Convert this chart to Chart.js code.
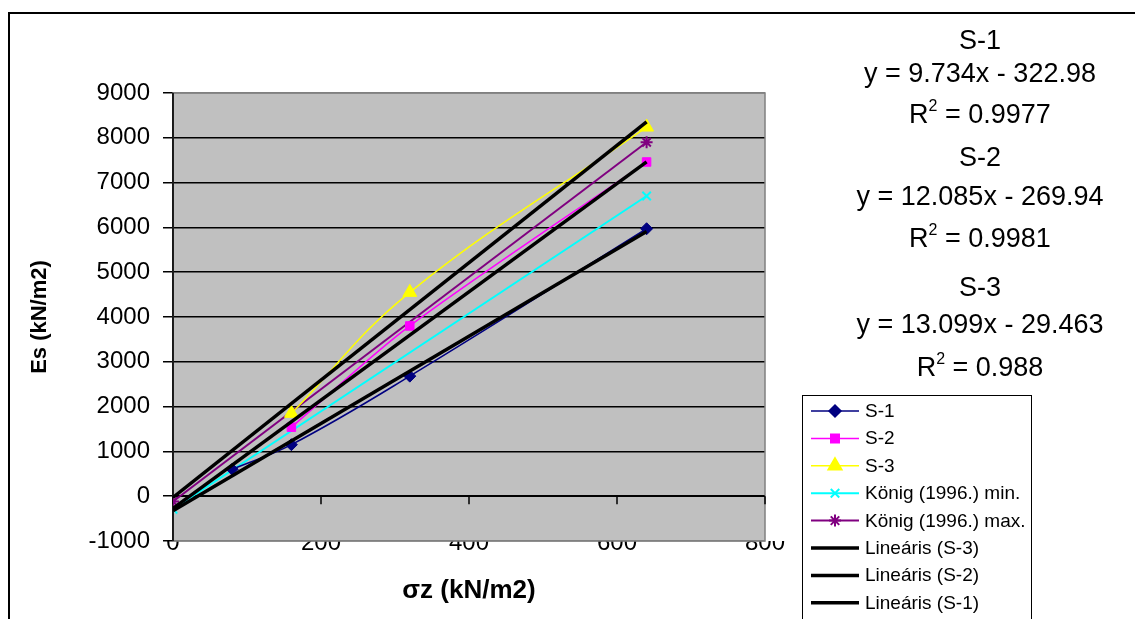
<!DOCTYPE html>
<html>
<head>
<meta charset="utf-8">
<script src="https://cdn.jsdelivr.net/npm/chart.js@4.4.0/dist/chart.umd.min.js"></script>
<style>
  body { margin: 0; background: #fff; font-family: Arial, 'Liberation Sans', sans-serif; }
  #wrap { position: relative; width: 1135px; height: 619px; overflow: hidden; }
  #chart { position: absolute; left: 0; top: 0; }
  #frame { position: absolute; left: 8px; top: 12px; width: 1140px; height: 640px; border: 2px solid #000; box-sizing: border-box; }
  .eq { position: absolute; left: 830px; width: 300px; text-align: center; font-size: 27px; line-height: 28px; color: #000; }
  .eq sup { font-size: 16px; line-height: 0; vertical-align: 12px; }
  #legend { position: absolute; left: 802px; top: 395px; width: 230px; height: 240px; border: 1.5px solid #000; box-sizing: border-box; }
  .lg { position: absolute; left: 865px; font-size: 19px; line-height: 20px; color: #000; white-space: nowrap; }
</style>
</head>
<body>
<div id="wrap">
  <canvas id="chart" width="1135" height="619"></canvas>
  <div id="frame"></div>
  <div id="legend"></div>
  <div id="texts"></div>
</div>
<script>
// measured series
const xS1 = [80, 160, 320, 640];
const yS1 = [600, 1150, 2680, 5970];
const xS2 = [160, 320, 640];
const yS2 = [1540, 3800, 7460];
const xS3 = [160, 320, 640];
const yS3 = [1850, 4550, 8240];
const xKonig = [0, 640];
const yKonigMin = [-290, 6700];
const yKonigMax = [-120, 7900];
// trendline end points (x = 0 and x = 640)
const xTrend = [0, 640];
const yLinS3 = [-29, 8354];
const yLinS2 = [-270, 7464];
const yLinS1 = [-323, 5907];

const xTicks = [0, 200, 400, 600, 800];
const yTicks = [-1000, 0, 1000, 2000, 3000, 4000, 5000, 6000, 7000, 8000, 9000];

const eqLines = [
  ['S-1', 40], ['y = 9.734x - 322.98', 73], ['R<sup>2</sup> = 0.9977', 114],
  ['S-2', 157], ['y = 12.085x - 269.94', 196], ['R<sup>2</sup> = 0.9981', 238],
  ['S-3', 287], ['y = 13.099x - 29.463', 324], ['R<sup>2</sup> = 0.988', 367],
];

const pts = (xs, ys) => xs.map((x, i) => ({ x, y: ys[i] }));

const datasets = [
  { label: 'S-1', data: pts(xS1, yS1), borderColor: '#000080', backgroundColor: '#000080', borderWidth: 1.5,
    pointStyle: 'rectRot', pointRadius: 6, tension: 0.4, order: 2 },
  { label: 'S-2', data: pts(xS2, yS2), borderColor: '#FF00FF', backgroundColor: '#FF00FF', borderWidth: 1.5,
    pointStyle: 'rect', pointRadius: 6, tension: 0.3, order: 2 },
  { label: 'S-3', data: pts(xS3, yS3), borderColor: '#FFFF00', backgroundColor: '#FFFF00', borderWidth: 1.5,
    pointStyle: 'triangle', pointRadius: 8, tension: 0.4, order: 2 },
  { label: 'König (1996.) min.', data: pts(xKonig, yKonigMin), borderColor: '#00FFFF', backgroundColor: '#00FFFF', borderWidth: 2,
    pointStyle: 'crossRot', pointRadius: 6, pointBorderWidth: 2, order: 2 },
  { label: 'König (1996.) max.', data: pts(xKonig, yKonigMax), borderColor: '#800080', backgroundColor: '#800080', borderWidth: 2,
    pointStyle: 'star', pointRadius: 6, pointBorderWidth: 2, order: 2 },
  { label: 'Lineáris (S-3)', data: pts(xTrend, yLinS3), borderColor: '#000', borderWidth: 3.5, pointRadius: 0, order: 1 },
  { label: 'Lineáris (S-2)', data: pts(xTrend, yLinS2), borderColor: '#000', borderWidth: 3.5, pointRadius: 0, order: 1 },
  { label: 'Lineáris (S-1)', data: pts(xTrend, yLinS1), borderColor: '#000', borderWidth: 3.5, pointRadius: 0, order: 1 },
];

// text overlays
const texts = document.getElementById('texts');
eqLines.forEach(([t, cy]) => {
  const d = document.createElement('div');
  d.className = 'eq';
  d.style.top = (cy - 14) + 'px';
  d.innerHTML = t;
  texts.appendChild(d);
});
const LEG_TOP = 411, LEG_STEP = 27.4;
datasets.forEach((ds, i) => {
  const d = document.createElement('div');
  d.className = 'lg';
  d.style.top = (LEG_TOP + i * LEG_STEP - 10) + 'px';
  d.textContent = ds.label;
  texts.appendChild(d);
});

const plotDecor = {
  id: 'plotDecor',
  beforeDraw(chart) {
    const { ctx, chartArea: a } = chart;
    ctx.save();
    ctx.fillStyle = '#C0C0C0';
    ctx.fillRect(a.left, a.top, a.right - a.left, a.bottom - a.top);
    ctx.restore();
  },
  beforeDatasetsDraw(chart) {
    const { ctx, chartArea: a, scales: { x, y } } = chart;
    ctx.save();
    ctx.strokeStyle = '#808080';
    ctx.lineWidth = 1.5;
    ctx.strokeRect(a.left, a.top, a.right - a.left, a.bottom - a.top);
    // x axis crossing at y = 0
    const y0 = y.getPixelForValue(0);
    ctx.strokeStyle = '#000';
    ctx.lineWidth = 1.5;
    ctx.beginPath();
    ctx.moveTo(a.left, y0); ctx.lineTo(a.right, y0);
    xTicks.forEach(v => {
      const px = x.getPixelForValue(v);
      ctx.moveTo(px, y0); ctx.lineTo(px, y0 + 8);
    });
    ctx.stroke();
    // y axis line
    ctx.beginPath();
    ctx.moveTo(a.left, a.top); ctx.lineTo(a.left, a.bottom);
    ctx.stroke();
    ctx.restore();
  },
  afterDraw(chart) {
    const { ctx } = chart;
    ctx.save();
    chart.data.datasets.forEach((ds, i) => {
      const cy = LEG_TOP + i * LEG_STEP;
      ctx.strokeStyle = ds.borderColor;
      ctx.lineWidth = ds.borderWidth;
      ctx.beginPath();
      ctx.moveTo(811, cy); ctx.lineTo(859, cy);
      ctx.stroke();
      if (ds.pointRadius) {
        ctx.fillStyle = ds.backgroundColor;
        ctx.strokeStyle = ds.borderColor;
        Chart.helpers.drawPoint(ctx, {
          pointStyle: ds.pointStyle, radius: ds.pointRadius,
          borderWidth: ds.pointBorderWidth || 1, rotation: 0
        }, 835, cy);
      }
    });
    ctx.restore();
  }
};

new Chart(document.getElementById('chart'), {
  type: 'scatter',
  data: { datasets: datasets.map(d => Object.assign({ showLine: true, pointBorderWidth: 1 }, d)) },
  options: {
    responsive: false,
    animation: false,
    layout: { padding: { top: 93, right: 370, left: 0, bottom: 0 } },
    plugins: { legend: { display: false }, tooltip: { enabled: false } },
    scales: {
      x: {
        type: 'linear', min: 0, max: 800,
        afterFit: s => { s.height = 78; },
        afterBuildTicks: s => { s.ticks = xTicks.map(v => ({ value: v })); },
        grid: { display: false, drawTicks: false },
        border: { display: false },
        ticks: { color: '#000', padding: -12, font: { family: 'Arial', size: 24 }, autoSkip: false, maxRotation: 0,
                 callback: v => String(v) },
        title: { display: true, text: 'σz (kN/m2)', color: '#000', font: { family: 'Arial', size: 26, weight: 'bold' },
                 padding: { top: 0, bottom: 13 } }
      },
      y: {
        type: 'linear', min: -1000, max: 9000,
        afterFit: s => { s.width = 173; },
        afterBuildTicks: s => { s.ticks = yTicks.map(v => ({ value: v })); },
        grid: {
          color: c => (c.tick && (c.tick.value === 9000 || c.tick.value === -1000)) ? '#808080' : '#000',
          lineWidth: 1.5, tickLength: 10, tickColor: '#000', tickWidth: 1.5
        },
        border: { display: true, color: '#000', width: 1.5 },
        ticks: { color: '#000', padding: 13, font: { family: 'Arial', size: 24 }, autoSkip: false,
                 callback: v => String(v) },
        title: { display: true, text: 'Es (kN/m2)', color: '#000', font: { family: 'Arial', size: 22, weight: 'bold' },
                 padding: { top: 27, bottom: 0 } }
      }
    }
  },
  plugins: [plotDecor]
});
</script>
</body>
</html>
